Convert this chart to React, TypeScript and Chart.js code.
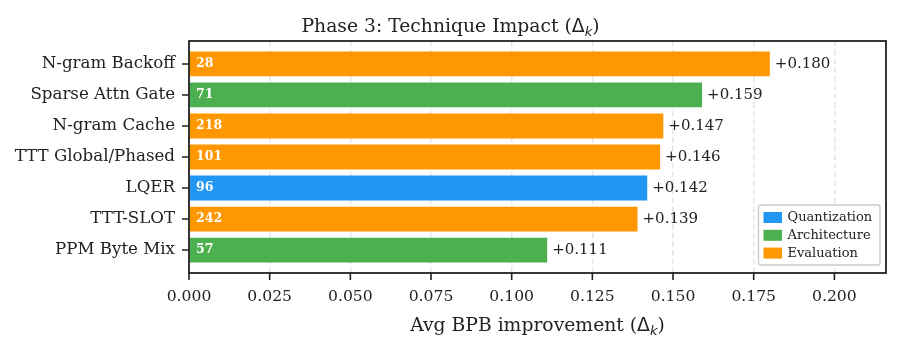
import React, { useEffect, useRef } from 'react';
import { Chart, registerables } from 'chart.js';

Chart.register(...registerables);

// Techniques, top to bottom
const techniques = [
  'N-gram Backoff',
  'Sparse Attn Gate',
  'N-gram Cache',
  'TTT Global/Phased',
  'LQER',
  'TTT-SLOT',
  'PPM Byte Mix',
];
// Average BPB improvement per technique
const improvements = [0.180, 0.159, 0.147, 0.146, 0.142, 0.139, 0.111];
// Number of runs using each technique
const runCounts = [28, 71, 218, 101, 96, 242, 57];
// Category of each technique
const techniqueCategory = [
  'Evaluation',
  'Architecture',
  'Evaluation',
  'Evaluation',
  'Quantization',
  'Evaluation',
  'Architecture',
];
const legendCategories = ['Quantization', 'Architecture', 'Evaluation'];
const categoryColors: Record<string, string> = {
  Quantization: '#2196F3',
  Architecture: '#4CAF50',
  Evaluation: '#FF9800',
};
const xTickValues = [0, 0.025, 0.05, 0.075, 0.1, 0.125, 0.15, 0.175, 0.2];
const xMax = 0.216;

const SERIF = "'DejaVu Serif', serif";
const SANS = "'DejaVu Sans', sans-serif";
const INK = '#222222';
const TICK_LEN = 7;

type Seg = { text: string; font: string; dy?: number };

function drawSegments(ctx: CanvasRenderingContext2D, segs: Seg[], cx: number, y: number) {
  const widths = segs.map((s) => {
    ctx.font = s.font;
    return ctx.measureText(s.text).width;
  });
  const total = widths.reduce((a, b) => a + b, 0);
  let x = cx - total / 2;
  ctx.textAlign = 'left';
  ctx.textBaseline = 'alphabetic';
  segs.forEach((s, i) => {
    ctx.font = s.font;
    ctx.fillText(s.text, x, y + (s.dy || 0));
    x += widths[i];
  });
}

function deltaK(prefix: string, size: number): Seg[] {
  return [
    { text: prefix + '(', font: `${size}px ${SERIF}` },
    { text: 'Δ', font: `${size}px ${SANS}` },
    { text: 'k', font: `italic ${size * 0.7}px ${SANS}`, dy: size * 0.22 },
    { text: ')', font: `${size}px ${SERIF}` },
  ];
}

const decorations = {
  id: 'decorations',
  afterDatasetsDraw(chart: any) {
    const ctx: CanvasRenderingContext2D = chart.ctx;
    const area = chart.chartArea;
    const meta = chart.getDatasetMeta(0);
    const xs = chart.scales.x;
    const ys = chart.scales.y;

    ctx.save();
    // run counts inside bars, value labels after bars
    meta.data.forEach((bar: any, i: number) => {
      ctx.fillStyle = '#ffffff';
      ctx.font = `bold 12.5px ${SERIF}`;
      ctx.textAlign = 'left';
      ctx.textBaseline = 'middle';
      ctx.fillText(String(runCounts[i]), area.left + 7, bar.y);

      ctx.fillStyle = INK;
      ctx.font = `15px ${SERIF}`;
      ctx.fillText('+' + improvements[i].toFixed(3), bar.x + 5, bar.y);
    });

    // tick marks outside the axes
    ctx.strokeStyle = INK;
    ctx.lineWidth = 1.6;
    ctx.beginPath();
    xTickValues.forEach((v) => {
      const px = xs.getPixelForValue(v);
      ctx.moveTo(px, area.bottom);
      ctx.lineTo(px, area.bottom + TICK_LEN);
    });
    techniques.forEach((_, i) => {
      const py = ys.getPixelForValue(i);
      ctx.moveTo(area.left, py);
      ctx.lineTo(area.left - TICK_LEN, py);
    });
    ctx.stroke();

    // axes frame
    ctx.lineWidth = 1.8;
    ctx.strokeRect(area.left, area.top, area.right - area.left, area.bottom - area.top);

    // legend
    const lx = 758.5;
    const ly = 205;
    const lw = 121.5;
    const lh = 60;
    ctx.beginPath();
    ctx.roundRect(lx, ly, lw, lh, 2.5);
    ctx.fillStyle = 'rgba(255,255,255,0.8)';
    ctx.fill();
    ctx.strokeStyle = '#cccccc';
    ctx.lineWidth = 1.4;
    ctx.stroke();
    legendCategories.forEach((c, i) => {
      const y = ly + 7 + i * 17.8;
      ctx.fillStyle = categoryColors[c];
      ctx.fillRect(lx + 5, y, 18.5, 11);
      ctx.fillStyle = INK;
      ctx.font = `13px ${SERIF}`;
      ctx.textAlign = 'left';
      ctx.textBaseline = 'middle';
      ctx.fillText(c, lx + 29, y + 6);
    });

    // title and x-axis label
    ctx.fillStyle = INK;
    drawSegments(ctx, deltaK('Phase 3: Technique Impact ', 18.75), 450.5, 31.5);
    drawSegments(ctx, deltaK('Avg BPB improvement ', 18.75), (area.left + area.right) / 2, 331);
    ctx.restore();
  },
};

export default function App() {
  const ref = useRef<HTMLCanvasElement | null>(null);

  useEffect(() => {
    document.body.style.margin = '0';
    const canvas = ref.current;
    if (!canvas) return;
    const chart = new Chart(canvas, {
      type: 'bar',
      data: {
        datasets: [
          {
            data: improvements.map((v, i) => ({ x: v, y: i })),
            backgroundColor: techniqueCategory.map((c) => categoryColors[c]),
            barPercentage: 0.8,
            categoryPercentage: 1,
            borderWidth: 0,
          },
        ],
      },
      options: {
        indexAxis: 'y',
        animation: false,
        responsive: false,
        devicePixelRatio: 1,
        layout: { padding: { top: 41, right: 15, bottom: 0, left: 0 } },
        plugins: {
          legend: { display: false },
          tooltip: { enabled: false },
          title: { display: false },
        },
        scales: {
          x: {
            type: 'linear',
            min: 0,
            max: xMax,
            afterBuildTicks: (scale: any) => {
              scale.ticks = xTickValues.map((v) => ({ value: v }));
            },
            afterFit: (scale: any) => {
              scale.height = 78;
            },
            ticks: {
              color: INK,
              font: { family: SERIF, size: 15.6 },
              padding: TICK_LEN + 8,
              maxRotation: 0,
              autoSkip: false,
              callback: (v: any) => Number(v).toFixed(3),
            },
            grid: {
              color: '#e6e6e6',
              lineWidth: 1.5,
              drawTicks: false,
            },
            border: { display: false, dash: [6, 2.7] },
          },
          y: {
            type: 'linear',
            reverse: true,
            offset: false,
            min: -0.74,
            max: 6.74,
            afterBuildTicks: (scale: any) => {
              scale.ticks = techniques.map((_, i) => ({ value: i }));
            },
            afterFit: (scale: any) => {
              scale.width = 189;
            },
            ticks: {
              color: INK,
              font: { family: SERIF, size: 16.67 },
              padding: 6,
              autoSkip: false,
              callback: (v: any) => techniques[Math.round(Number(v))] ?? '',
            },
            grid: {
              offset: false,
              display: false,
            },
            border: { display: false },
          },
        },
      },
      plugins: [decorations],
    } as any);
    return () => chart.destroy();
  }, []);

  return (
    <div style={{ width: 901, height: 351 }}>
      <canvas ref={ref} width={901} height={351} style={{ display: 'block' }} />
    </div>
  );
}
